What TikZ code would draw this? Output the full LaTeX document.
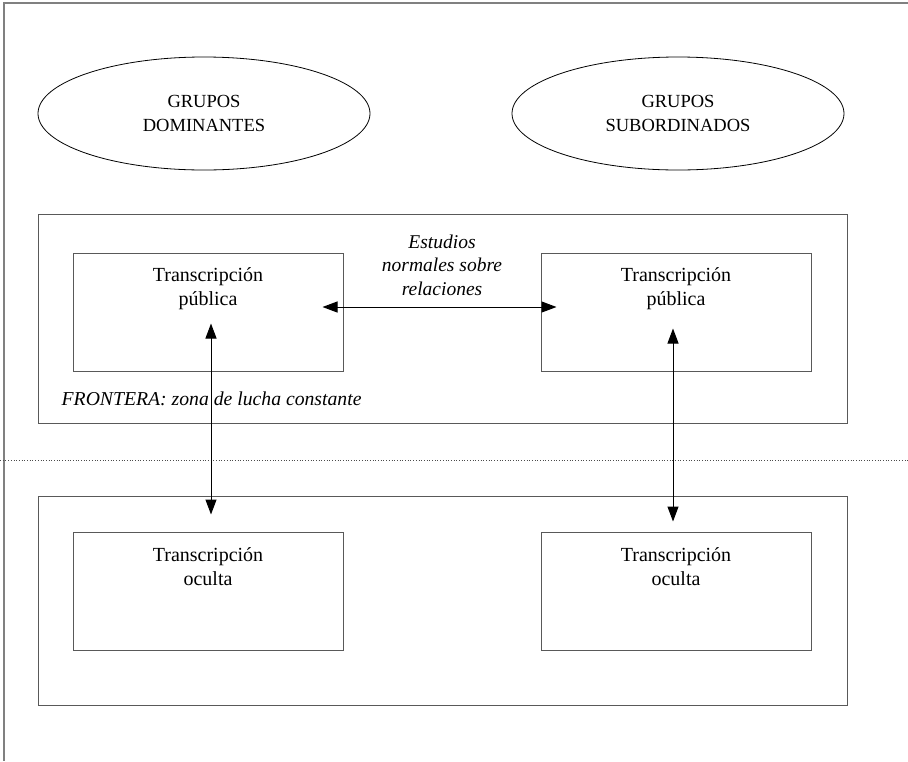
\documentclass[tikz,border=0pt]{standalone}
\usepackage{fontspec}
\setmainfont{Liberation Serif}
\usetikzlibrary{positioning,shapes.geometric,arrows.meta}

\begin{document}
\begin{tikzpicture}[x=1pt, y=-1pt,
    grupo/.style={draw, ellipse, line width=0.8pt, minimum width=332pt, minimum height=113pt, inner sep=0pt, align=center, font=\fontsize{18.5}{24}\selectfont}, % Style for groups
    zona/.style={draw=black!65, line width=1pt, minimum width=809pt, minimum height=209pt, inner sep=0pt},
    caja/.style={draw=black!65, line width=1pt, minimum width=270pt, minimum height=118pt, inner sep=0pt},
    texto/.style={align=center, inner sep=0pt, font=\fontsize{20}{24}\selectfont},
    flecha/.style={{Triangle[length=15pt,width=11pt]}-{Triangle[length=15pt,width=11pt]}, line width=1pt}
]

% Page size
\useasboundingbox (0,0) rectangle (908,761);

% Frame
\draw[black!50, line width=1.5pt] (908,3) -- (4,3) -- (4,761);

% Groups
\node[grupo] (dominantes) at (204,113.5) {GRUPOS\\DOMINANTES};
\node[grupo] (subordinados) at (678,113.5) {GRUPOS\\SUBORDINADOS};

% Zones
\node[zona] (frontera) at (442.5,318.5) {};
\node[zona] (oculta) at (442.5,600.5) {};

% Boxes
\node[caja] (pubdom) at (208,312) {};
\node[caja] (pubsub) at (676,312) {};
\node[caja] (ocudom) at (208,591) {};
\node[caja] (ocusub) at (676,591) {};

% Box texts
\node[texto, below=15pt of pubdom.north] (tpubdom) {Transcripción\\pública};
\node[texto, below=15pt of pubsub.north] (tpubsub) {Transcripción\\pública};
\node[texto, below=16pt of ocudom.north] (tocudom) {Transcripción\\oculta};
\node[texto, below=16pt of ocusub.north] (tocusub) {Transcripción\\oculta};

% Labels
\node[texto, font=\fontsize{19.5}{23.5}\selectfont\itshape] (estudios) at (442,265) {Estudios\\normales sobre\\relaciones};
\node[texto, font=\fontsize{19.7}{24}\selectfont\itshape, anchor=base west] (lucha) at ([xshift=24pt,yshift=18pt]frontera.south west) {FRONTERA: zona de lucha constante};

% Dividing line
\draw[black!70, dotted, line width=0.7pt] (0,460) -- (908,460);

% Arrows
\draw[flecha] ([xshift=-21pt,yshift=5pt]pubdom.east) -- ([xshift=16pt,yshift=5pt]pubsub.west);
\draw[flecha] ([xshift=3pt,yshift=48pt]pubdom.south) -- ([xshift=3pt,yshift=17pt]ocudom.north);
\draw[flecha] ([xshift=-3pt,yshift=43pt]pubsub.south) -- ([xshift=-3pt,yshift=10pt]ocusub.north);

\end{tikzpicture}
\end{document}
